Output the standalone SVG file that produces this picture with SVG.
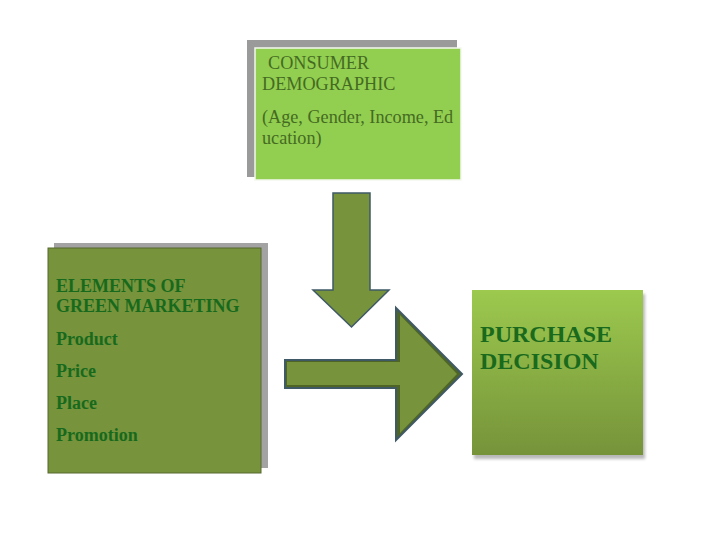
<svg xmlns="http://www.w3.org/2000/svg" width="728" height="546" viewBox="0 0 728 546">
  <defs>
    <linearGradient id="pgrad" x1="0" y1="0" x2="0" y2="1">
      <stop offset="0" stop-color="#9cc94e"/>
      <stop offset="1" stop-color="#76933a"/>
    </linearGradient>
    <filter id="soft" x="-10%" y="-10%" width="120%" height="120%">
      <feGaussianBlur stdDeviation="1.5"/>
    </filter>
  </defs>
  <style>
    .serif { font-family: "Liberation Serif", "Times New Roman", serif; }
    .cons { font-size: 18.2px; fill: #456b22; }
    .elem { font-size: 18px; font-weight: bold; fill: #176a1c; }
    .purch { font-size: 24px; font-weight: bold; fill: #196a1c; }
    .arrow { fill: #77933c; stroke: #3f5a66; stroke-width: 1.5; stroke-linejoin: miter; }
  </style>
  <rect width="728" height="546" fill="#ffffff"/>

  <g id="consumer-demographic">
    <rect x="247" y="40" width="210" height="137" fill="#9a9a9a"/>
    <rect x="255" y="48" width="206" height="132" fill="#92cf50" stroke="#f4f8ee" stroke-width="1.5"/>
    <text class="serif cons" x="268" y="69">CONSUMER</text>
    <text class="serif cons" x="262" y="90">DEMOGRAPHIC</text>
    <text class="serif cons" x="262" y="123">(Age, Gender, Income, Ed</text>
    <text class="serif cons" x="262" y="144">ucation)</text>
  </g>

  <g id="elements-green-marketing">
    <rect x="54" y="243" width="214" height="225" fill="#a3a3a3"/>
    <rect x="48" y="248" width="213" height="225" fill="#77933c" stroke="#56682e" stroke-width="1"/>
    <text class="serif elem" x="56" y="292">ELEMENTS OF</text>
    <text class="serif elem" x="56" y="312">GREEN MARKETING</text>
    <text class="serif elem" x="56" y="345">Product</text>
    <text class="serif elem" x="56" y="377">Price</text>
    <text class="serif elem" x="56" y="409">Place</text>
    <text class="serif elem" x="56" y="441">Promotion</text>
  </g>

  <g id="purchase-decision">
    <rect x="474" y="294" width="171" height="165" fill="#b8b8b8" filter="url(#soft)"/>
    <rect x="472" y="290" width="171" height="165" fill="url(#pgrad)"/>
    <text class="serif purch" x="480" y="342">PURCHASE</text>
    <text class="serif purch" x="480" y="369">DECISION</text>
  </g>

  <g id="connectors">
    <path class="arrow" d="M333,193 L370,193 L370,290 L389,290 L351.5,327 L313,290 L333,290 Z"/>
    <path d="M285,360 L396,360 L396,308 L462,374 L396,440 L396,388 L285,388 Z" fill="#4e6526" stroke="#3f5a66" stroke-width="2" stroke-linejoin="miter"/>
    <path d="M287,362 L400,362 L400,315 L457,374 L400,433 L400,385 L287,385 Z" fill="#77933c"/>
  </g>
</svg>
